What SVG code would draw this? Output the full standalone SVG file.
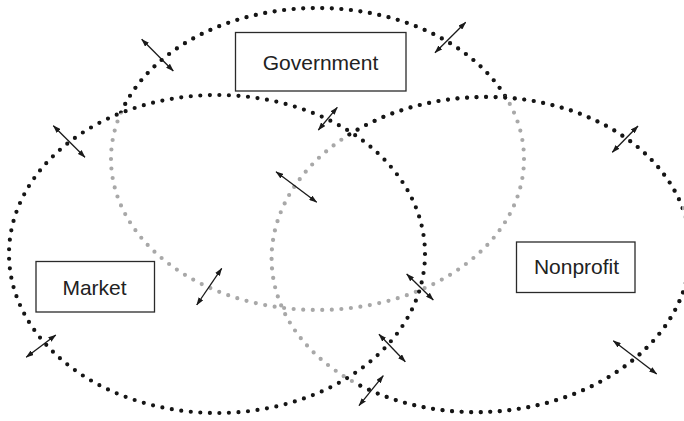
<svg xmlns="http://www.w3.org/2000/svg" width="684" height="421" viewBox="0 0 684 421">
  <defs>
    <style>
      .dot{fill:none;stroke-width:4.2;stroke-linecap:round;stroke-dasharray:0 1}
      .blk{stroke:#151515}
      .gry{stroke:#a8a8a8}
      .box{fill:#fff;stroke:#2a2a2a;stroke-width:1.3}
      .lbl{font-family:"Liberation Sans",Arial,Helvetica,sans-serif;font-size:21px;fill:#222;text-anchor:middle}
      .arr{stroke:#1a1a1a;stroke-width:1.3;fill:none;marker-start:url(#ah);marker-end:url(#ah)}
    </style>
    <marker id="ah" viewBox="0 0 8 5.5" refX="7.5" refY="2.75" markerWidth="8" markerHeight="5.5" markerUnits="userSpaceOnUse" orient="auto-start-reverse">
      <path d="M0,0 L8,2.75 L0,5.5 z" fill="#1a1a1a"/>
    </marker>
    <mask id="outM" maskUnits="userSpaceOnUse" x="0" y="0" width="684" height="421">
      <rect x="0" y="0" width="684" height="421" fill="#fff"/>
      <ellipse cx="217" cy="254" rx="208" ry="159" fill="#000"/>
    </mask>
    <mask id="outMN" maskUnits="userSpaceOnUse" x="0" y="0" width="684" height="421">
      <rect x="0" y="0" width="684" height="421" fill="#fff"/>
      <ellipse cx="217" cy="254" rx="208" ry="159" fill="#000"/>
      <ellipse cx="481" cy="254.5" rx="209.5" ry="157.5" transform="rotate(-2.5 481 254.5)" fill="#000"/>
    </mask>
  </defs>
  <rect x="0" y="0" width="684" height="421" fill="#fff"/>

  <g id="government">
    <ellipse class="dot gry" cx="317.5" cy="159" rx="206.5" ry="151" pathLength="118"/>
    <ellipse class="dot blk" cx="317.5" cy="159" rx="206.5" ry="151" pathLength="118" mask="url(#outMN)"/>
    <rect class="box" x="235.5" y="32.5" width="170.5" height="58.5"/>
    <text class="lbl" x="320.5" y="69.5">Government</text>
  </g>

  <g id="nonprofit">
    <ellipse class="dot gry" cx="481" cy="254.5" rx="209.5" ry="157.5" transform="rotate(-2.5 481 254.5)" pathLength="121"/>
    <ellipse class="dot blk" cx="481" cy="254.5" rx="209.5" ry="157.5" transform="rotate(-2.5 481 254.5)" pathLength="121" mask="url(#outM)"/>
    <rect class="box" x="516.5" y="242" width="118.5" height="50.5"/>
    <text class="lbl" x="576.5" y="273.5">Nonprofit</text>
  </g>

  <g id="market">
    <ellipse class="dot blk" cx="217" cy="254" rx="208" ry="159" pathLength="121"/>
    <rect class="box" x="36" y="261.5" width="118.5" height="50.5"/>
    <text class="lbl" x="94.5" y="295">Market</text>
  </g>

  <g id="connectors">
    <line class="arr" x1="141.7" y1="39.3" x2="173.3" y2="71"/>
    <line class="arr" x1="465.7" y1="22.3" x2="435" y2="52.7"/>
    <line class="arr" x1="53.3" y1="125.7" x2="85" y2="157.3"/>
    <line class="arr" x1="337.3" y1="107.3" x2="318.3" y2="130"/>
    <line class="arr" x1="638" y1="126" x2="612.3" y2="152.3"/>
    <line class="arr" x1="276" y1="171.7" x2="316.7" y2="202.3"/>
    <line class="arr" x1="221.7" y1="268.3" x2="196.7" y2="305"/>
    <line class="arr" x1="406.7" y1="274" x2="433.3" y2="300"/>
    <line class="arr" x1="55.8" y1="335" x2="26.2" y2="357.3"/>
    <line class="arr" x1="379" y1="334.3" x2="405.3" y2="361.7"/>
    <line class="arr" x1="383.3" y1="375.7" x2="359" y2="405.7"/>
    <line class="arr" x1="613.3" y1="340.7" x2="656.7" y2="374"/>
  </g>
</svg>
